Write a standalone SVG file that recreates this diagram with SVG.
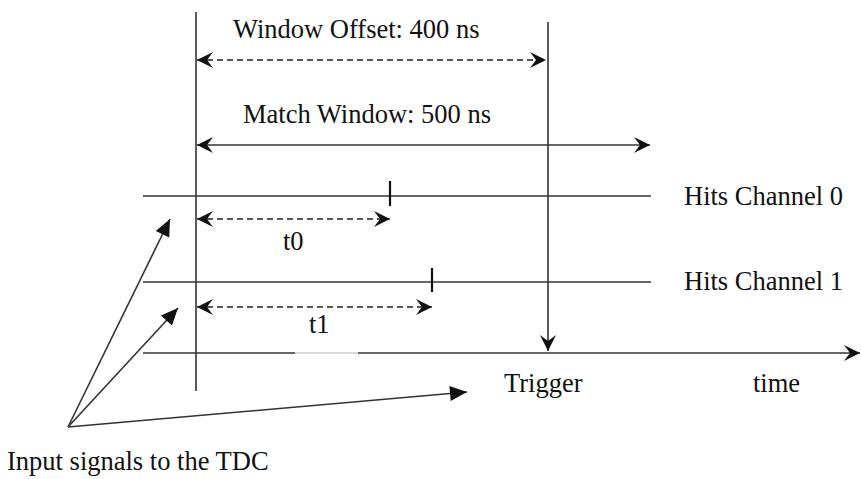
<svg xmlns="http://www.w3.org/2000/svg" width="861" height="479" viewBox="0 0 861 479">
  <defs>
    <style>
      .ln { stroke: #333; stroke-width: 1.6; fill: none; }
      .dash { stroke: #222; stroke-width: 1.4; stroke-dasharray: 6 4; fill: none; }
      .tick { stroke: #111; stroke-width: 2.2; }
      .lbl { font-family: "Liberation Serif", "Times New Roman", serif; font-size: 26.5px; fill: #111; }
    </style>
    <marker id="stealth" viewBox="-16 -9 18 18" refX="0" refY="0" markerWidth="18" markerHeight="18" markerUnits="userSpaceOnUse" orient="auto-start-reverse">
      <path d="M0,0 L-16,-8 L-10,0 L-16,8 Z" fill="#111"/>
    </marker>
    <marker id="tri" viewBox="-18 -9 20 18" refX="0" refY="0" markerWidth="20" markerHeight="18" markerUnits="userSpaceOnUse" orient="auto">
      <path d="M0,0 L-17,-7.5 L-17,7.5 Z" fill="#111"/>
    </marker>
  </defs>

  <rect width="861" height="479" fill="#fff"/>

  <g id="connectors">
    <!-- window start and trigger verticals -->
    <line class="ln" x1="196" y1="12" x2="196" y2="391"/>
    <line class="ln" x1="548" y1="22" x2="548" y2="351" marker-end="url(#stealth)"/>

    <!-- window offset and match window spans -->
    <line class="dash" x1="197" y1="60" x2="546" y2="60" marker-start="url(#stealth)" marker-end="url(#stealth)"/>
    <line class="ln" x1="197" y1="145" x2="650" y2="145" marker-start="url(#stealth)" marker-end="url(#stealth)"/>

    <!-- hit channels -->
    <line class="ln" x1="143" y1="196" x2="651" y2="196"/>
    <line class="tick" x1="390" y1="181" x2="390" y2="206"/>
    <line class="dash" x1="197" y1="219" x2="390" y2="219" marker-start="url(#stealth)" marker-end="url(#stealth)"/>

    <line class="ln" x1="143" y1="282" x2="651" y2="282"/>
    <line class="tick" x1="432" y1="268" x2="432" y2="292"/>
    <line class="dash" x1="197" y1="307" x2="432" y2="307" marker-start="url(#stealth)" marker-end="url(#stealth)"/>

    <!-- time axis -->
    <line class="ln" x1="143" y1="353" x2="295" y2="353"/>
    <line x1="295" y1="353" x2="358" y2="353" stroke="#ccc" stroke-width="1.6"/>
    <line class="ln" x1="358" y1="353" x2="860" y2="353" marker-end="url(#stealth)"/>

    <!-- input signal pointers -->
    <line class="ln" x1="68" y1="427" x2="170" y2="219" marker-end="url(#tri)"/>
    <line class="ln" x1="68" y1="427" x2="178" y2="308" marker-end="url(#tri)"/>
    <line class="ln" x1="68" y1="427" x2="467" y2="392" marker-end="url(#tri)"/>
  </g>

  <g id="label-window-offset"><text class="lbl" x="233" y="38">Window Offset: 400 ns</text></g>
  <g id="label-match-window"><text class="lbl" x="243" y="123">Match Window: 500 ns</text></g>
  <g id="label-ch0"><text class="lbl" x="684" y="205">Hits Channel 0</text></g>
  <g id="label-ch1"><text class="lbl" x="684" y="290">Hits Channel 1</text></g>
  <g id="label-t0"><text class="lbl" x="283" y="250">t0</text></g>
  <g id="label-t1"><text class="lbl" x="309" y="333">t1</text></g>
  <g id="label-trigger"><text class="lbl" x="504" y="392">Trigger</text></g>
  <g id="label-time"><text class="lbl" x="753" y="392">time</text></g>
  <g id="label-inputs"><text class="lbl" x="7" y="470">Input signals to the TDC</text></g>
</svg>
